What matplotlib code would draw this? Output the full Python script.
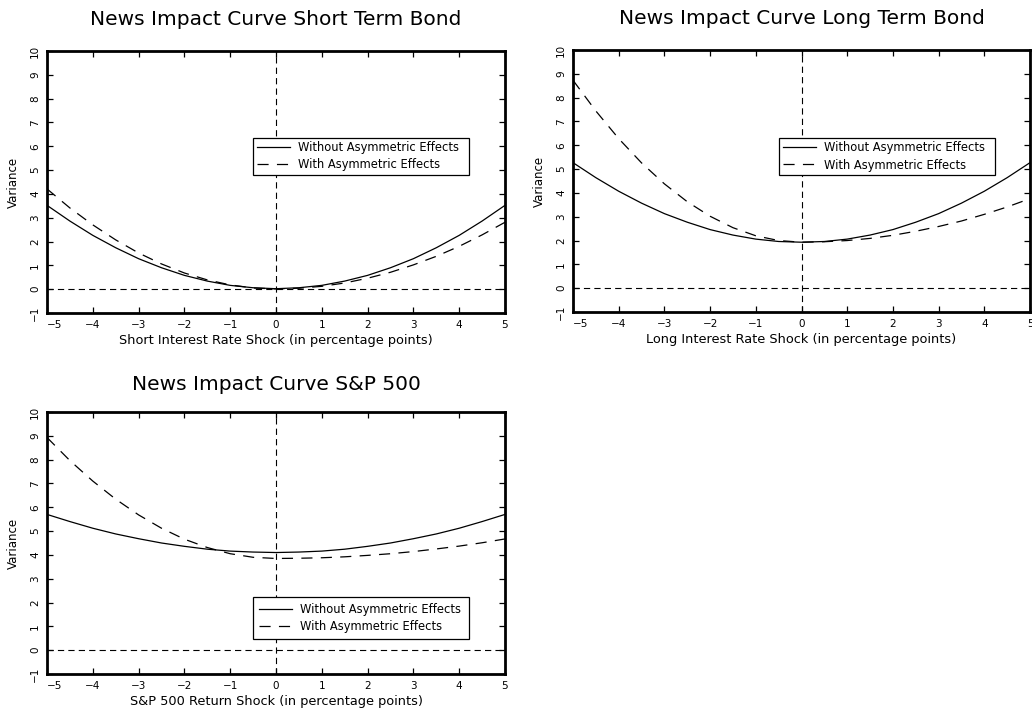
import matplotlib
matplotlib.use("Agg")
import matplotlib.pyplot as plt

plt.rcParams["font.family"] = ["DejaVu Sans"]
plt.rcParams["lines.scale_dashes"] = False

# Shock grid (percentage points)
shock = [-5.0, -4.5, -4.0, -3.5, -3.0, -2.5, -2.0, -1.5, -1.0, -0.5, 0.0,
         0.5, 1.0, 1.5, 2.0, 2.5, 3.0, 3.5, 4.0, 4.5, 5.0]

# Short term bond: conditional variance
short_sym = [3.52, 2.86, 2.26, 1.74, 1.28, 0.90, 0.58, 0.34, 0.16, 0.06, 0.02,
             0.06, 0.16, 0.34, 0.58, 0.90, 1.28, 1.74, 2.26, 2.86, 3.52]
short_asym = [4.21, 3.41, 2.70, 2.07, 1.52, 1.06, 0.68, 0.39, 0.18, 0.05, 0.01,
              0.04, 0.12, 0.26, 0.46, 0.71, 1.02, 1.38, 1.80, 2.28, 2.81]

# Long term bond: conditional variance
long_sym = [5.27, 4.64, 4.07, 3.57, 3.13, 2.77, 2.46, 2.23, 2.06, 1.96, 1.93,
            1.96, 2.06, 2.23, 2.46, 2.77, 3.13, 3.57, 4.07, 4.64, 5.27]
long_asym = [8.73, 7.44, 6.28, 5.26, 4.38, 3.63, 3.02, 2.54, 2.20, 2.00, 1.93,
             1.95, 2.00, 2.09, 2.22, 2.39, 2.59, 2.82, 3.10, 3.41, 3.76]

# S&P 500: conditional variance
sp_sym = [5.70, 5.40, 5.12, 4.88, 4.68, 4.50, 4.36, 4.24, 4.16, 4.12, 4.10,
          4.12, 4.16, 4.24, 4.36, 4.50, 4.68, 4.88, 5.12, 5.40, 5.70]
sp_asym = [8.93, 7.96, 7.10, 6.34, 5.68, 5.12, 4.66, 4.31, 4.05, 3.90, 3.85,
           3.86, 3.88, 3.92, 3.98, 4.05, 4.14, 4.25, 4.37, 4.51, 4.67]

x_ticks = [-5, -4, -3, -2, -1, 0, 1, 2, 3, 4, 5]
y_ticks = [-1, 0, 1, 2, 3, 4, 5, 6, 7, 8, 9, 10]

titles = ["News Impact Curve Short Term Bond",
          "News Impact Curve Long Term Bond",
          "News Impact Curve S&P 500"]
xlabels = ["Short Interest Rate Shock (in percentage points)",
           "Long Interest Rate Shock (in percentage points)",
           "S&P 500 Return Shock (in percentage points)"]
legend_labels = ["Without Asymmetric Effects", "With Asymmetric Effects"]

W, H = 1032, 710
fig = plt.figure(figsize=(W / 100, H / 100), dpi=100)
fig.patch.set_facecolor("white")

# axes boxes in pixels: left, top, right, bottom
boxes = [(47, 51, 505, 313), (573, 50, 1030, 312), (47, 412, 505, 674)]
legend_anchor = [(0.450, 0.668), (0.451, 0.664), (0.450, 0.294)]
legend_pad = [0.3, 0.3, 0.5]
title_pad = [19, 19, 16]
series = [(short_sym, short_asym), (long_sym, long_asym), (sp_sym, sp_asym)]

long_dash = (0, (8.0, 6.0))
short_dash = (0, (4.5, 3.0))

for i in range(3):
    l, t, r, b = boxes[i]
    ax = fig.add_axes([l / W, (H - b) / H, (r - l) / W, (b - t) / H])
    sym, asym = series[i]
    ax.plot(shock, sym, color="black", lw=0.9, label=legend_labels[0])
    ax.plot(shock, asym, color="black", lw=0.9, linestyle=long_dash,
            label=legend_labels[1])
    ax.axhline(0, color="black", lw=0.8, linestyle=short_dash)
    ax.axvline(0, color="black", lw=0.8, linestyle=short_dash)

    ax.set_xlim(-5, 5)
    ax.set_ylim(-1, 10)
    ax.set_xticks(x_ticks)
    ax.set_yticks(y_ticks)
    ax.set_xticklabels([str(v).replace("-", "\u2212") for v in x_ticks])
    ax.set_yticklabels([str(v).replace("-", "\u2212") for v in y_ticks],
                       rotation=90, va="center")
    ax.xaxis.get_ticklabels()[0].set_horizontalalignment("left")
    ax.tick_params(axis="both", direction="in", length=4, width=0.9,
                   top=True, right=True, labelsize=7.5, pad=5)
    for sp in ax.spines.values():
        sp.set_linewidth(2.0)

    ax.set_title(titles[i], fontsize=14.5, pad=title_pad[i])
    ax.set_xlabel(xlabels[i], fontsize=9.3, labelpad=3)
    ax.set_ylabel("Variance", fontsize=8.5, labelpad=7)

    ax0, ay0 = legend_anchor[i]
    leg = ax.legend(loc="upper left", bbox_to_anchor=(ax0, ay0, 0.472, 0),
                    mode="expand", fontsize=8.3, frameon=True, fancybox=False,
                    framealpha=1, edgecolor="black", borderpad=legend_pad[i],
                    handlelength=2.9, handletextpad=0.7, labelspacing=0.35,
                    borderaxespad=0)
    leg.get_frame().set_linewidth(0.9)

fig.savefig("out.png", dpi=100, facecolor="white")
